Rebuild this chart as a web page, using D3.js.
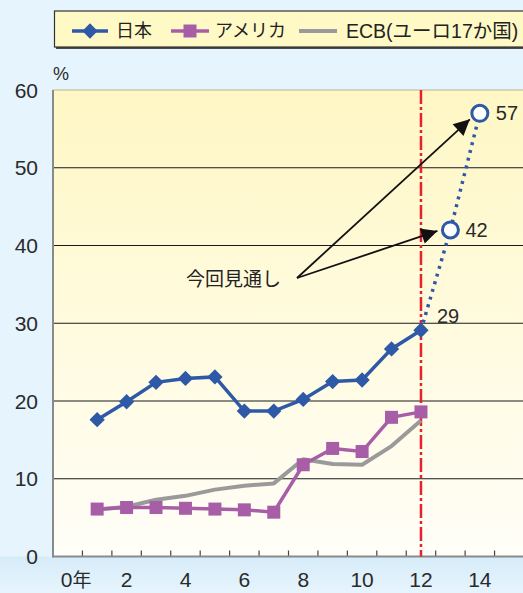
<!DOCTYPE html>
<html><head><meta charset="utf-8">
<script src="https://cdn.jsdelivr.net/npm/d3@7"></script>
<style>
html,body{margin:0;padding:0;background:#e6f4fd;overflow:hidden;}
svg{display:block;}
</style></head>
<body>
<svg id="c" width="523" height="593"></svg>
<script>
// ---- data ----
const years = [1,2,3,4,5,6,7,8,9,10,11,12];
const japan = [17.6,19.9,22.4,22.9,23.1,18.7,18.7,20.2,22.5,22.7,26.7,29.1];
const usa   = [6.1,6.3,6.3,6.2,6.1,6.0,5.7,11.8,13.9,13.5,17.9,18.6];
const ecb   = [6.0,6.4,7.3,7.8,8.6,9.1,9.4,12.5,11.9,11.8,14.2,17.5];
const projYears = [12,13,14];
const projVals  = [29.1,42,57];
const projLabels = ["29","42","57"];
const yTicks = [0,10,20,30,40,50,60];
const xLabelYears = [0,2,4,6,8,10,12,14];
const seriesNames = ["日本","アメリカ","ECB(ユーロ17か国)"];
const annotation = "今回見通し";
const cutYear = 12;

const C_JP="#2e59a7", C_US="#a75ea7", C_ECB="#9a9a9a", C_RED="#e8222c";
const svg = d3.select("#c");
const L=53, R=524, T=90, B=556.5;
const x = d3.scaleBand().domain(d3.range(0,16)).range([L,R]).paddingInner(0).paddingOuter(0);
const cx = d => x(d)+x.bandwidth()/2;
const y = d3.scaleLinear().domain([0,60]).range([B,T]);

const defs = svg.append("defs");
const g1 = defs.append("linearGradient").attr("id","bg").attr("x1",0).attr("y1",0).attr("x2",0).attr("y2",1);
g1.append("stop").attr("offset","0%").attr("stop-color","#fff7c4");
g1.append("stop").attr("offset","100%").attr("stop-color","#fffef8");
const g2 = defs.append("linearGradient").attr("id","bot").attr("x1",0).attr("y1",0).attr("x2",0).attr("y2",1);
g2.append("stop").attr("offset","0%").attr("stop-color","#d6ecf8");
g2.append("stop").attr("offset","100%").attr("stop-color","#e6f4fd");
const mk = defs.append("marker").attr("id","arr").attr("viewBox","0 0 10 10").attr("refX",10).attr("refY",5)
  .attr("markerWidth",22).attr("markerHeight",16).attr("markerUnits","userSpaceOnUse").attr("orient","auto");
mk.append("path").attr("d","M0,0 L10,5 L0,10 Z").attr("fill","#111");

// bottom band
svg.append("rect").attr("x",0).attr("y",B).attr("width",523).attr("height",593-B).attr("fill","url(#bot)");
// plot background
svg.append("rect").attr("x",L).attr("y",T).attr("width",R-L).attr("height",B-T).attr("fill","url(#bg)");
svg.append("line").attr("x1",L).attr("x2",R).attr("y1",T).attr("y2",T).attr("stroke","#b9b39a").attr("stroke-width",1);

// gridlines
svg.append("g").selectAll("line").data(yTicks.filter(v=>v>0&&v<60)).join("line")
  .attr("x1",L).attr("x2",R).attr("y1",d=>y(d)).attr("y2",d=>y(d)).attr("stroke","#1a1a1a").attr("stroke-width",1.2);

// y labels
svg.append("g").selectAll("text").data(yTicks).join("text")
  .attr("x",38).attr("y",d=>y(d)).attr("dy","0.36em").attr("text-anchor","end")
  .attr("font-family","Liberation Sans, Arial, sans-serif").attr("font-size",21).attr("fill","#2a2a2a").text(d=>d);
svg.append("text").attr("x",53).attr("y",80).attr("font-family","Liberation Sans, Arial, sans-serif")
  .attr("font-size",18).attr("fill","#2a2a2a").text("%");

// x ticks (band boundaries)
svg.append("g").selectAll("line").data(d3.range(1,16)).join("line")
  .attr("x1",d=>x(d)).attr("x2",d=>x(d)).attr("y1",B).attr("y2",B-6).attr("stroke","#444").attr("stroke-width",1.2);

// x labels
const xl = svg.append("g").attr("font-family","Liberation Sans, Arial, sans-serif").attr("font-size",21).attr("fill","#2a2a2a");
xLabelYears.forEach(v=>{
  if(v===0){
    const t = xl.append("text").attr("x",cx(v)-7).attr("y",587).attr("text-anchor","start");
    t.append("tspan").text("0");
    t.append("tspan").attr("font-family","Noto Sans CJK JP").attr("font-size",19).text("年");
  } else {
    xl.append("text").attr("x",cx(v)).attr("y",587).attr("text-anchor","middle").text(v);
  }
});

// axes
svg.append("line").attr("x1",L).attr("x2",R).attr("y1",B).attr("y2",B).attr("stroke","#8a8a8a").attr("stroke-width",2);
svg.append("line").attr("x1",L).attr("x2",L).attr("y1",T).attr("y2",B+1).attr("stroke","#8a8a8a").attr("stroke-width",2);

// red dash-dot line
svg.append("line").attr("x1",cx(cutYear)).attr("x2",cx(cutYear)).attr("y1",T).attr("y2",B)
  .attr("stroke",C_RED).attr("stroke-width",2.5).attr("stroke-dasharray","14,3,3,3");

const line = d3.line().x(d=>cx(d[0])).y(d=>y(d[1]));

// ECB
svg.append("path").datum(years.map((yr,i)=>[yr,ecb[i]])).attr("d",line).attr("fill","none")
  .attr("stroke",C_ECB).attr("stroke-width",4).attr("stroke-linejoin","round");
// USA
svg.append("path").datum(years.map((yr,i)=>[yr,usa[i]])).attr("d",line).attr("fill","none")
  .attr("stroke",C_US).attr("stroke-width",3.5);
svg.append("g").selectAll("rect").data(years.map((yr,i)=>[yr,usa[i]])).join("rect")
  .attr("x",d=>cx(d[0])-6.5).attr("y",d=>y(d[1])-6.5).attr("width",13).attr("height",13).attr("fill",C_US);

// projection dotted
svg.append("path").datum(projYears.map((yr,i)=>[yr,projVals[i]])).attr("d",line).attr("fill","none")
  .attr("stroke",C_JP).attr("stroke-width",3.5).attr("stroke-dasharray","3,5");

// Japan
svg.append("path").datum(years.map((yr,i)=>[yr,japan[i]])).attr("d",line).attr("fill","none")
  .attr("stroke",C_JP).attr("stroke-width",3.5);
const dia = d3.symbol().type(d3.symbolDiamond2).size(150);
svg.append("g").selectAll("path").data(years.map((yr,i)=>[yr,japan[i]])).join("path")
  .attr("transform",d=>`translate(${cx(d[0])},${y(d[1])})`).attr("d",dia).attr("fill",C_JP);

// open circles
svg.append("g").selectAll("circle").data(projYears.slice(1).map((yr,i)=>[yr,projVals[i+1]])).join("circle")
  .attr("cx",d=>cx(d[0])).attr("cy",d=>y(d[1])).attr("r",8).attr("fill","#fff").attr("stroke",C_JP).attr("stroke-width",3);

// value labels
const offs = [[16,-14],[15,0],[16,-1]];
svg.append("g").selectAll("text").data(projYears.map((yr,i)=>[yr,projVals[i],projLabels[i],offs[i]])).join("text")
  .attr("x",d=>cx(d[0])+d[3][0]).attr("y",d=>y(d[1])+d[3][1]).attr("dy","0.36em")
  .attr("font-family","Liberation Sans, Arial, sans-serif").attr("font-size",20).attr("fill","#2a2a2a").text(d=>d[2]);

// annotation
svg.append("text").attr("x",186).attr("y",279).attr("dy","0.36em").attr("font-family","Noto Sans CJK JP")
  .attr("font-size",19).attr("fill","#222").text(annotation);
const ax0=297, ay0=278;
[[13,42,-13,1],[14,57,-10,6]].forEach(a=>{
  svg.append("line").attr("x1",ax0).attr("y1",ay0).attr("x2",cx(a[0])+a[2]).attr("y2",y(a[1])+a[3])
    .attr("stroke","#111").attr("stroke-width",1.8).attr("marker-end","url(#arr)");
});

// legend
const lg = svg.append("g");
lg.append("rect").attr("x",55).attr("y",12).attr("width",480).attr("height",36).attr("fill","#4a4a4a").attr("transform","translate(1,1)");
lg.append("rect").attr("x",54.5).attr("y",11).attr("width",480).attr("height",36).attr("fill","#fffac5").attr("stroke","#333").attr("stroke-width",1.2);
const ly=31;
lg.append("line").attr("x1",72).attr("x2",108).attr("y1",ly).attr("y2",ly).attr("stroke",C_JP).attr("stroke-width",3.5);
lg.append("path").attr("transform",`translate(90,${ly})`).attr("d",dia).attr("fill",C_JP);
lg.append("line").attr("x1",171).attr("x2",209).attr("y1",ly).attr("y2",ly).attr("stroke",C_US).attr("stroke-width",3.5);
lg.append("rect").attr("x",183.5).attr("y",ly-6.5).attr("width",13).attr("height",13).attr("fill",C_US);
lg.append("line").attr("x1",299).attr("x2",337).attr("y1",ly).attr("y2",ly).attr("stroke",C_ECB).attr("stroke-width",4);
const lx=[116,215,346];
lg.selectAll("text.l").data(seriesNames).join("text").attr("class","l")
  .attr("x",(d,i)=>lx[i]).attr("y",ly).attr("dy","0.36em").attr("font-size",(d,i)=>i===2?19.5:18).attr("fill","#222")
  .attr("font-family",(d,i)=>i===2?"Liberation Sans, Noto Sans CJK JP, sans-serif":"Noto Sans CJK JP")
  .text(d=>d);
</script>
</body></html>
